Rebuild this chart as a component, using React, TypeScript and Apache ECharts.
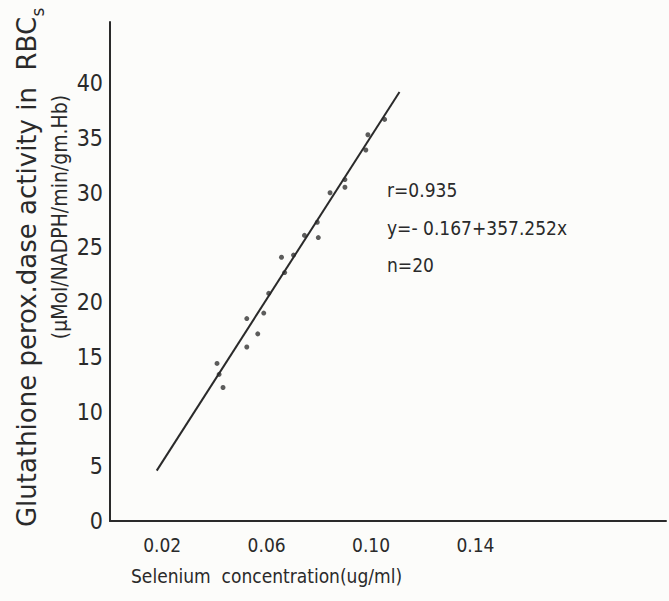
import React, { useEffect, useRef } from "react";
import * as echarts from "echarts";

const xTickLabels = [0.02, 0.06, 0.1, 0.14];
const yTickLabels = [0, 5, 10, 15, 20, 25, 30, 35, 40];

const seleniumX = [
  0.1052, 0.0988, 0.098, 0.09, 0.09, 0.0843, 0.0794, 0.0798, 0.0745, 0.0703,
  0.0657, 0.0669, 0.0608, 0.0589, 0.0524, 0.0566, 0.0524, 0.041, 0.0418, 0.0433,
];
const gpxY = [
  36.7, 35.3, 33.9, 31.2, 30.5, 30.0, 27.3, 25.9, 26.1, 24.3,
  24.1, 22.7, 20.8, 19.0, 18.5, 17.1, 15.9, 14.4, 13.4, 12.2,
];
const fitLineX = [0.0179, 0.1109];
const fitLineY = [4.6, 39.2];

const statsText = ["r=0.935", "y=- 0.167+357.252x", "n=20"];
const xTitle = "Selenium  concentration(ug/ml)";
const yTitle1 = "Glutathione perox.dase activity in  RBC";
const yTitleSub = "s";
const yTitle2 = "(µMol/NADPH/min/gm.Hb)";

const FONT = '"DejaVu Sans Condensed", "DejaVu Sans", sans-serif';
const FONT_W = '"DejaVu Sans", sans-serif';
const INK = "#2a2a2a";

export default function App() {
  const ref = useRef<HTMLDivElement>(null);
  useEffect(() => {
    if (!ref.current) return;
    const chart = echarts.init(ref.current, undefined, { renderer: "svg" });
    const points = seleniumX.map((x, i) => [x, gpxY[i]]);
    const line = fitLineX.map((x, i) => [x, fitLineY[i]]);
    const rotText = (text: string, x: number, y: number, size: number, family: string) => ({
      type: "text",
      x,
      y,
      rotation: Math.PI / 2,
      style: {
        text,
        font: `${size}px ${family}`,
        fill: INK,
        textAlign: "center",
        textVerticalAlign: "middle",
      },
    });
    chart.setOption({
      animation: false,
      backgroundColor: "#fcfcfa",
      grid: { left: 110, right: 0, top: 22, bottom: 80, containLabel: false },
      xAxis: {
        type: "value",
        min: 0,
        max: 0.213,
        interval: 0.02,
        axisLine: { show: true, lineStyle: { color: INK, width: 2 } },
        axisTick: { show: false },
        splitLine: { show: false },
        axisLabel: {
          margin: 14,
          fontFamily: FONT,
          fontSize: 19,
          color: INK,
          formatter: (v: number) =>
            xTickLabels.some((t) => Math.abs(t - v) < 1e-6) ? v.toFixed(2) : "",
        },
      },
      yAxis: {
        type: "value",
        min: 0,
        max: 45.6,
        interval: 5,
        axisLine: { show: true, lineStyle: { color: INK, width: 2 } },
        axisTick: { show: false },
        splitLine: { show: false },
        axisLabel: {
          margin: 7,
          fontFamily: FONT,
          fontSize: 23,
          color: INK,
          formatter: (v: number) =>
            yTickLabels.some((t) => Math.abs(t - v) < 1e-6) ? String(v) : "",
        },
      },
      graphic: [
        rotText(yTitle1, 27, 272, 26, FONT_W),
        rotText(yTitleSub, 38, 12, 17, FONT_W),
        rotText(yTitle2, 60, 217, 21, FONT),
        {
          type: "text",
          x: 131,
          y: 576,
          style: {
            text: xTitle,
            font: `19px ${FONT}`,
            fill: INK,
            textAlign: "left",
            textVerticalAlign: "middle",
          },
        },
        ...statsText.map((t, i) => ({
          type: "text",
          x: 387,
          y: [190, 228, 265][i],
          style: {
            text: t,
            font: `19px ${FONT}`,
            fill: INK,
            textAlign: "left",
            textVerticalAlign: "middle",
          },
        })),
      ],
      series: [
        {
          type: "line",
          data: line,
          symbol: "none",
          lineStyle: { color: INK, width: 2 },
        },
        {
          type: "scatter",
          data: points,
          symbol: "circle",
          symbolSize: 5,
          itemStyle: { color: "#333" },
        },
      ],
    });
    return () => chart.dispose();
  }, []);
  return (
    <div
      ref={ref}
      style={{ position: "fixed", left: 0, top: 0, width: 669, height: 601 }}
    />
  );
}
